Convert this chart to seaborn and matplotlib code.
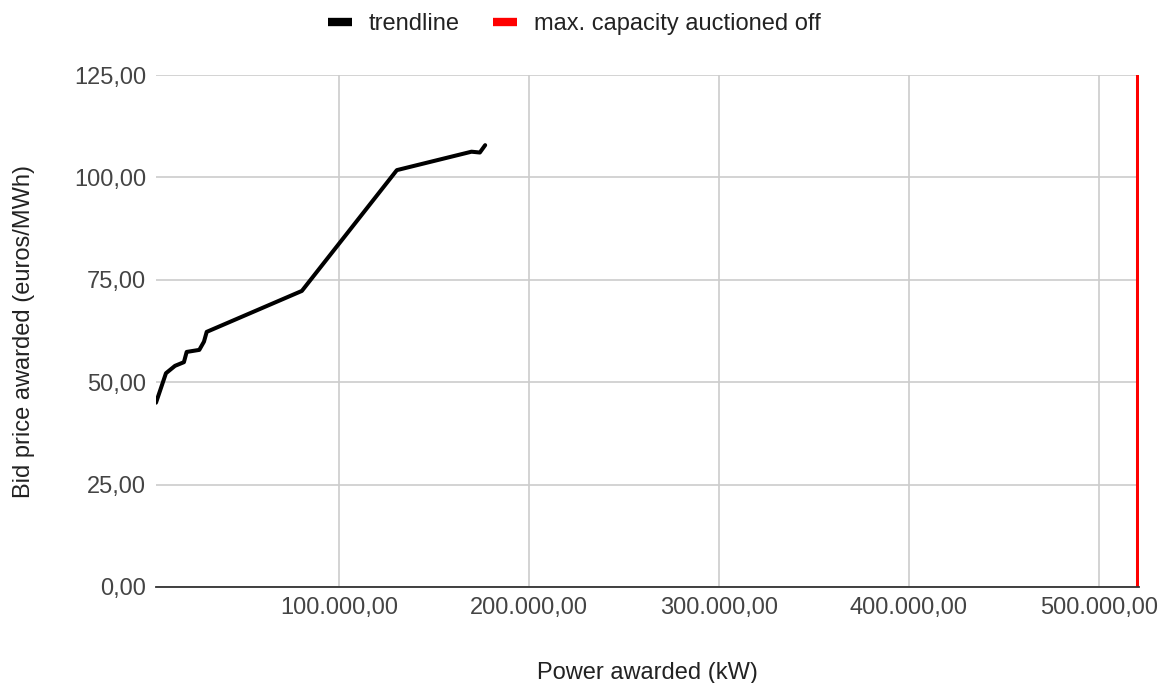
import matplotlib.pyplot as plt
import matplotlib.ticker as mticker
import numpy as np
import pandas as pd
import seaborn as sns

power_kw = [3700, 8950, 13700, 18400, 19850, 26500, 28950, 30400,
            80500, 130500, 169800, 174200, 177000]
bid_price = [45.0, 52.2, 54.0, 54.9, 57.4, 57.9, 59.9, 62.3,
             72.3, 101.8, 106.3, 106.1, 107.9]
max_capacity = 520500
price_range = [0, 125]

def de_fmt(v, pos=None):
    s = f"{v:,.2f}"
    return s.replace(",", "X").replace(".", ",").replace("X", ".")

sns.set_theme(style="white")
plt.rcParams["font.family"] = ["Liberation Sans", "DejaVu Sans"]

fig = plt.figure(figsize=(11.72, 6.83), dpi=100)
ax = fig.add_axes([0.1331, 0.1406, 0.8387, 0.7494])

trend = pd.DataFrame({"power": power_kw, "price": bid_price})
sns.lineplot(data=trend, x="power", y="price", color="black", lw=2.9,
             sort=False, estimator=None, ax=ax, label="trendline")
cap = pd.DataFrame({"power": [max_capacity, max_capacity], "price": price_range})
sns.lineplot(data=cap, x="power", y="price", color="#ff0000", lw=2.9,
             sort=False, estimator=None, ax=ax, label="max. capacity auctioned off")

ax.set_xlim(3700, 521200)
ax.set_ylim(0, 125)
ax.set_xticks([100000, 200000, 300000, 400000, 500000])
ax.set_yticks([0, 25, 50, 75, 100, 125])
ax.xaxis.set_major_formatter(mticker.FuncFormatter(de_fmt))
ax.yaxis.set_major_formatter(mticker.FuncFormatter(de_fmt))
ax.grid(True, color="#cccccc", lw=1.2)
ax.set_axisbelow(True)
for s in ["top", "right", "left"]:
    ax.spines[s].set_visible(False)
ax.spines["bottom"].set_color("#333333")
ax.spines["bottom"].set_linewidth(1.3)
ax.tick_params(length=0, labelsize=17, colors="#444444", pad=7)
ax.set_xlabel("Power awarded (kW)", fontsize=17, color="#222222", labelpad=31)
ax.set_ylabel("Bid price awarded (euros/MWh)", fontsize=17, color="#222222", labelpad=28)

handles, labels = ax.get_legend_handles_labels()
ax.get_legend().remove()
leg = fig.legend(handles, labels, loc="center", bbox_to_anchor=(0.49, 0.965), ncol=2,
                 frameon=False, fontsize=17, handlelength=1.0, columnspacing=1.4,
                 handletextpad=0.72)
for h in leg.get_lines():
    h.set_linewidth(6)
    h.set_solid_capstyle("butt")
for t in leg.get_texts():
    t.set_color("#222222")

fig.savefig("out.png", dpi=100)
